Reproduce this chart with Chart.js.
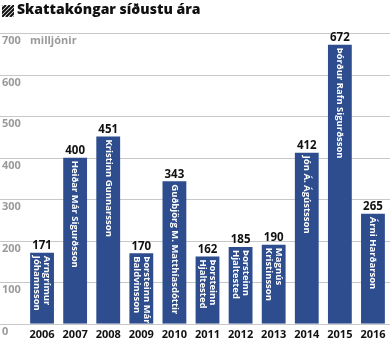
<!DOCTYPE html>
<html>
<head>
<meta charset="utf-8">
<script src="https://cdn.jsdelivr.net/npm/chart.js@4"></script>
<style>
  html, body { margin: 0; padding: 0; background: #fff; }
  #wrap { width: 390px; height: 345px; position: relative; }
</style>
</head>
<body>
<div id="wrap"><canvas id="chart"></canvas></div>
<script>
// Skattakóngar síðustu ára
const years = ['2006', '2007', '2008', '2009', '2010', '2011', '2012', '2013', '2014', '2015', '2016'];
const amounts = [171, 400, 451, 170, 343, 162, 185, 190, 412, 672, 265];
const names = [
    ['Arngrímur', 'Jóhannsson'],
    ['Heiðar Már Sigurðsson'],
    ['Kristinn Gunnarsson'],
    ['Þorsteinn Már', 'Baldvinsson'],
    ['Guðbjörg M. Matthíasdóttir'],
    ['Þorsteinn', 'Hjaltested'],
    ['Þorsteinn', 'Hjaltested'],
    ['Magnús', 'Kristinsson'],
    ['Jón Á. Ágústsson'],
    ['Þórður Rafn Sigurðsson'],
    ['Árni Harðarson']
];
const titleText = 'Skattakóngar síðustu ára';
const unitText = 'milljónir';

const FONT = '"Open Sans", sans-serif';
const barColor = '#2d4d8e';

// draw gridlines, tick labels, title, values and names
const decorations = {
    id: 'decorations',
    beforeDatasetsDraw(chart) {
        const ctx = chart.ctx;
        const y = chart.scales.y;
        ctx.save();
        ctx.strokeStyle = '#c8c8c8';
        ctx.lineWidth = 1;
        ctx.fillStyle = '#9a9a9a';
        ctx.font = `bold 11px ${FONT}`;
        ctx.textBaseline = 'top';
        ctx.textAlign = 'left';
        y.ticks.forEach(t => {
            const py = Math.round(y.getPixelForValue(t.value)) + 0.5;
            ctx.beginPath();
            ctx.moveTo(0, py);
            ctx.lineTo(chart.width, py);
            ctx.stroke();
            ctx.fillText(String(t.value), 2, py + 2);
        });
        ctx.fillText(unitText, 30, Math.round(y.getPixelForValue(700)) + 2.5);
        ctx.restore();
    },
    afterDatasetsDraw(chart) {
        const ctx = chart.ctx;
        const meta = chart.getDatasetMeta(0);
        ctx.save();
        // title icon
        ctx.save();
        ctx.beginPath();
        ctx.rect(2, 5, 12, 12);
        ctx.clip();
        ctx.strokeStyle = '#111';
        ctx.lineWidth = 2;
        for (let i = -12; i < 26; i += 4) {
            ctx.beginPath();
            ctx.moveTo(2 + i, 17);
            ctx.lineTo(2 + i + 12, 5);
            ctx.stroke();
        }
        ctx.restore();
        ctx.fillStyle = '#111';
        ctx.font = `800 14px ${FONT}`;
        ctx.textBaseline = 'middle';
        ctx.textAlign = 'left';
        ctx.fillText(titleText, 17, 10.5);

        meta.data.forEach((bar, i) => {
            // value above bar
            ctx.fillStyle = '#111';
            ctx.font = `bold 11.5px ${FONT}`;
            ctx.textAlign = 'center';
            ctx.textBaseline = 'bottom';
            ctx.fillText(String(amounts[i]), bar.x, bar.y - 1);

            // name inside bar, rotated
            const lines = names[i];
            ctx.save();
            ctx.translate(bar.x, bar.y + 3);
            ctx.rotate(Math.PI / 2);
            ctx.fillStyle = '#fff';
            ctx.font = `bold 9.5px ${FONT}`;
            ctx.textAlign = 'left';
            ctx.textBaseline = 'middle';
            const lh = 10;
            lines.forEach((ln, k) => {
                const off = (k - (lines.length - 1) / 2) * lh;
                ctx.fillText(ln, 0, off);
            });
            ctx.restore();
        });
        ctx.restore();
    }
};

new Chart(document.getElementById('chart'), {
    type: 'bar',
    data: {
        labels: years,
        datasets: [{
            data: amounts,
            backgroundColor: barColor,
            borderWidth: 0,
            categoryPercentage: 1,
            barPercentage: 0.72
        }]
    },
    options: {
        responsive: true,
        maintainAspectRatio: false,
        animation: false,
        layout: { padding: { left: 25.5, right: 0.5, top: 33, bottom: 0 } },
        plugins: {
            legend: { display: false },
            tooltip: { enabled: false }
        },
        scales: {
            x: {
                grid: { display: false, drawTicks: false },
                border: { display: false },
                ticks: {
                    color: '#111',
                    padding: 4,
                    font: { family: FONT, weight: 'bold', size: 11 }
                }
            },
            y: {
                display: false,
                min: 0,
                max: 700,
                ticks: { stepSize: 100 }
            }
        }
    },
    plugins: [decorations]
});
</script>
</body>
</html>
